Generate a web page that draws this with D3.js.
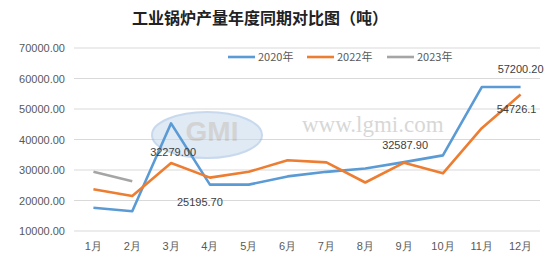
<!DOCTYPE html>
<html>
<head>
<meta charset="utf-8">
<script src="https://cdn.jsdelivr.net/npm/d3@7"></script>
<style>
  body { margin: 0; background: #fff; }
  svg { display: block; font-family: "Noto Sans CJK SC", "DejaVu Sans", sans-serif; }
</style>
</head>
<body>
<div id="chart"></div>
<script>
const months = ["1月", "2月", "3月", "4月", "5月", "6月", "7月", "8月", "9月", "10月", "11月", "12月"];
const yTicks = [10000, 20000, 30000, 40000, 50000, 60000, 70000];
const values2020 = [17600, 16500, 45300, 25195.7, 25200, 27900, 29400, 30500, 32587.9, 34800, 57200.2, 57200.2];
const values2022 = [23700, 21500, 32279, 27500, 29400, 33200, 32500, 25900, 32400, 28900, 43700, 54726.1];
const values2023 = [29400, 26300];
const seriesNames = ["2020年", "2022年", "2023年"];
const labels = [
  { text: "32279.00", month: "3月", value: 32279, dx: 2, dy: -11 },
  { text: "25195.70", month: "4月", value: 25195.7, dx: -10, dy: 17 },
  { text: "32587.90", month: "9月", value: 32587.9, dx: 1, dy: -17 },
  { text: "57200.20", month: "12月", value: 57200.2, dx: 0, dy: -18 },
  { text: "54726.1", month: "12月", value: 54726.1, dx: -4, dy: 15 }
];

const width = 557, height = 268;
const margin = { top: 48, right: 17, bottom: 37, left: 74 };
const colors = ["#5b9bd5", "#ed7d31", "#a5a5a5"];

const svg = d3.select("#chart").append("svg")
  .attr("width", width).attr("height", height);

const x = d3.scaleBand(months, [margin.left, width - margin.right]);
const y = d3.scaleLinear([10000, 70000], [height - margin.bottom, margin.top]);

// Title
svg.append("text")
  .attr("x", 260).attr("y", 24)
  .attr("text-anchor", "middle")
  .attr("font-size", 16).attr("font-weight", "bold")
  .attr("fill", "#222")
  .text("工业锅炉产量年度同期对比图（吨）");

// Grid
svg.append("g").selectAll("line").data(yTicks).join("line")
  .attr("x1", margin.left).attr("x2", width - margin.right)
  .attr("y1", d => y(d)).attr("y2", d => y(d))
  .attr("stroke", "#d9d9d9").attr("stroke-width", 1);

// Y axis
const yAxis = svg.append("g")
  .attr("transform", `translate(${margin.left - 9},0)`)
  .call(d3.axisLeft(y).tickValues(yTicks).tickFormat(d3.format(".2f")).tickSize(0).tickPadding(0));
yAxis.select(".domain").remove();
yAxis.selectAll("text").attr("fill", "#595959").attr("font-size", 11)
  .attr("font-family", "Liberation Sans, Arial, sans-serif");

// X axis
const xAxis = svg.append("g")
  .attr("transform", `translate(0,${height - margin.bottom + 9})`)
  .call(d3.axisBottom(x).tickSize(0).tickPadding(0));
xAxis.select(".domain").remove();
xAxis.selectAll("text").attr("fill", "#595959").attr("font-size", 11).attr("dy", "0.9em");

// Watermark
const wm = svg.append("g").attr("opacity", 0.55);
wm.append("ellipse").attr("cx", 207).attr("cy", 135).attr("rx", 55).attr("ry", 23)
  .attr("fill", "#c5d9ee").attr("stroke", "#9dbbe0").attr("stroke-width", 2);
wm.append("text").attr("x", 212).attr("y", 141).attr("text-anchor", "middle")
  .attr("font-size", 28).attr("font-weight", "bold").attr("font-family", "Liberation Sans, sans-serif")
  .attr("fill", "#b0b0b0").text("GMI");
wm.append("text").attr("x", 302).attr("y", 132)
  .attr("font-size", 23).attr("font-family", "Liberation Serif, serif")
  .attr("fill", "#b8b8b8").text("www.lgmi.com");

// Lines
const line = d3.line().x((d, i) => x(months[i]) + x.bandwidth() / 2).y(d => y(d));
[values2020, values2022, values2023].forEach((vals, i) => {
  svg.append("path").datum(vals)
    .attr("fill", "none").attr("stroke", colors[i]).attr("stroke-width", 2.6)
    .attr("stroke-linejoin", "round")
    .attr("d", line);
});

// Data labels
svg.append("g").selectAll("text").data(labels).join("text")
  .attr("x", d => x(d.month) + x.bandwidth() / 2 + d.dx)
  .attr("y", d => y(d.value) + d.dy)
  .attr("dy", "0.35em")
  .attr("text-anchor", "middle")
  .attr("font-size", 11).attr("fill", "#404040")
  .attr("font-family", "Liberation Sans, Arial, sans-serif")
  .text(d => d.text);

// Legend
const legendX = [228, 307, 387];
const legend = svg.append("g").selectAll("g").data(seriesNames).join("g")
  .attr("transform", (d, i) => `translate(${legendX[i]},57)`);
legend.append("line").attr("x1", 0).attr("x2", 27)
  .attr("stroke", (d, i) => colors[i]).attr("stroke-width", 2.6);
legend.append("text").attr("x", 30).attr("dy", "0.35em")
  .attr("font-size", 11).attr("fill", "#595959").text(d => d);
</script>
</body>
</html>
